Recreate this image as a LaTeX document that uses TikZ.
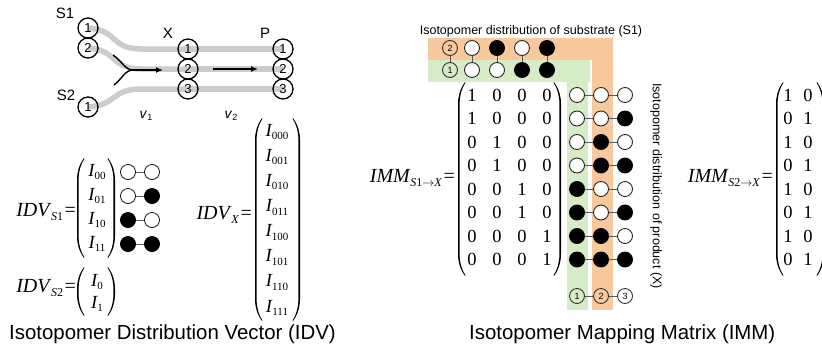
\documentclass[tikz,border=0pt]{standalone}
\usepackage{fontspec}
\setmainfont{Liberation Serif}
\setsansfont{Liberation Sans}
\usetikzlibrary{arrows.meta}
\definecolor{orng}{RGB}{249,200,156}
\definecolor{grn}{RGB}{213,236,198}
\newcommand\Isub[1]{\textit{I}\kern-0.5pt\raisebox{-3.5pt}{\fontsize{11}{11}\selectfont#1}}
\newcommand\myLab[2]{\textit{#1}\kern-0.5pt\raisebox{-4.5pt}{\fontsize{12}{12}\selectfont#2}\kern1.5pt=}
\newcommand\myLP[3]{\fill ({#1+7},#2) .. controls ({#1+2},{#2+7}) and (#1,{#2+14}) .. (#1,{#2+22}) -- (#1,{#3-22}) .. controls (#1,{#3-14}) and ({#1+2},{#3-7}) .. ({#1+7},#3) -- ({#1+7.4},{#3-0.7}) .. controls ({#1+3.3},{#3-7}) and ({#1+1.6},{#3-14}) .. ({#1+1.6},{#3-22}) -- ({#1+1.6},{#2+22}) .. controls ({#1+1.6},{#2+14}) and ({#1+3.3},{#2+7}) .. ({#1+7.4},{#2+0.7}) -- cycle;}
\newcommand\myRP[3]{\fill ({#1-7},#2) .. controls ({#1-2},{#2+7}) and (#1,{#2+14}) .. (#1,{#2+22}) -- (#1,{#3-22}) .. controls (#1,{#3-14}) and ({#1-2},{#3-7}) .. ({#1-7},#3) -- ({#1-7.4},{#3-0.7}) .. controls ({#1-3.3},{#3-7}) and ({#1-1.6},{#3-14}) .. ({#1-1.6},{#3-22}) -- ({#1-1.6},{#2+22}) .. controls ({#1-1.6},{#2+14}) and ({#1-3.3},{#2+7}) .. ({#1-7.4},{#2+0.7}) -- cycle;}
\begin{document}
\begin{tikzpicture}[x=1pt,y=-1pt,
  atom/.style={circle,draw,line width=1.3pt,minimum size=20pt,inner sep=0pt,font=\sffamily\fontsize{13}{13}\selectfont},
  band/.style={line width=5.5pt,draw=black!20},
  flow/.style={line width=1.4pt,draw=black},
  dot0/.style={circle,draw=black!85,fill=white,line width=0.9pt,minimum size=15pt,inner sep=0pt},
  dot1/.style={dot0,fill=black,draw=black},
  lbl/.style={circle,draw=black!80,line width=0.9pt,minimum size=15pt,inner sep=0pt,font=\sffamily\fontsize{9}{9}\selectfont},
  conn/.style={draw=black!65,line width=1pt},
  ent/.style={inner sep=0pt,font=\fontsize{18.5}{18.5}\selectfont},
  eqlab/.style={inner sep=0pt,anchor=east,font=\fontsize{20}{20}\selectfont},
  plain/.style={inner sep=0pt,font=\sffamily\fontsize{15}{15}\selectfont},
  captext/.style={inner sep=0pt,anchor=west,font=\sffamily\fontsize{20.4}{20.4}\selectfont},
  small/.style={inner sep=0pt,font=\sffamily\fontsize{12.5}{12.5}\selectfont}]
\useasboundingbox (0,0) rectangle (822,354);

% ---------- pathway ----------
\coordinate (cs1a) at (88,28);
\coordinate (cs1b) at (88,48);
\coordinate (cs2a) at (88,107);
\coordinate (cx1) at (188,49);
\coordinate (cx2) at (188,69);
\coordinate (cx3) at (188,89);
\coordinate (cp1) at (283,49);
\coordinate (cp2) at (283,69);
\coordinate (cp3) at (283,89);
\draw[band] (cs1a) .. controls (118,30) and (110,49) .. (142,49) -- (cx1);
\draw[band] (cs1b) .. controls (118,50) and (110,69) .. (142,69) -- (cx2);
\draw[band] (cs2a) .. controls (118,105) and (110,89) .. (142,89) -- (cx3);
\draw[band] (cx1) -- (cp1);
\draw[band] (cx2) -- (cp2);
\draw[band] (cx3) -- (cp3);
\node[atom] (s1a) at (cs1a) {1};
\node[atom] (s1b) at (cs1b) {2};
\node[atom] (s2a) at (cs2a) {1};
\node[atom] (x1) at (cx1) {1};
\node[atom] (x2) at (cx2) {2};
\node[atom] (x3) at (cx3) {3};
\node[atom] (p1) at (cp1) {1};
\node[atom] (p2) at (cp2) {2};
\node[atom] (p3) at (cp3) {3};
\node[plain] (ts1) at (65,13) {S1};
\node[plain] (ts2) at (66,95) {S2};
\node[plain] (tx) at (168,33) {X};
\node[plain] (tp) at (265,33) {P};
\node[plain,font=\sffamily\fontsize{14}{14}\selectfont] (tv1) at (146,116) {\textit{v}\raisebox{-2.5pt}{\fontsize{9}{9}\selectfont 1}};
\node[plain,font=\sffamily\fontsize{14}{14}\selectfont] (tv2) at (231,116) {\textit{v}\raisebox{-2.5pt}{\fontsize{9}{9}\selectfont 2}};
\coordinate (m1) at (113,55);
\coordinate (m2) at (114,85);
\coordinate (mj) at (133,70);
\coordinate (mt) at (163,70);
\coordinate (n1) at (213,69);
\coordinate (n2) at (258,69);
\draw[flow] (m1) .. controls (122,61) and (125,70) .. (mj);
\draw[flow] (m2) .. controls (122,79) and (125,70) .. (mj);
\draw[flow,-{Latex[length=7pt,width=6pt]}] (mj) -- (mt);
\draw[flow,-{Latex[length=7pt,width=6pt]}] (n1) -- (n2);

% ---------- IDV ----------
\node[eqlab] (ls1) at (76,212) {\myLab{IDV}{\textit{S}1}};
\myLP{77}{158}{258}
\myRP{115}{158}{258}
\foreach \s/\y [count=\i] in {00/172,01/196,10/220,11/244}
  \node[ent] (is1-\i) at (97,\y) {\Isub{\s}};
\foreach \a/\b/\y [count=\i] in {0/0/172,0/1/196,1/0/220,1/1/244}{
  \node[dot\a] (da\i) at (128,\y) {};
  \node[dot\b] (db\i) at (152,\y) {};
  \draw[conn] (da\i) -- (db\i);
}
\node[eqlab] (ls2) at (76,288) {\myLab{IDV}{\textit{S}2}};
\myLP{77}{267}{316}
\myRP{115}{267}{316}
\node[ent] (is2-1) at (97,282) {\Isub{0}};
\node[ent] (is2-2) at (97,304) {\Isub{1}};
\node[eqlab] (lx) at (252,215) {\myLab{IDV}{\textit{X}}};
\myLP{255}{118}{321}
\myRP{300}{118}{321}
\foreach \s [count=\i from 0] in {000,001,010,011,100,101,110,111}
  \node[ent] (ix-\i) at (277,{132+25.1*\i}) {\Isub{\s}};
\node[captext] (cap1) at (9,334) {Isotopomer Distribution Vector (IDV)};

% ---------- IMM ----------
\fill[orng] (428,38) rectangle (613,60);
\fill[orng] (592,38) rectangle (613,310);
\fill[grn] (428,60) rectangle (590,82);
\fill[grn] (567,60) rectangle (588,310);
\node[small] (title) at (531,31) {Isotopomer distribution of substrate (S1)};
\node[small,rotate=-90] (vtitle) at (656,186) {Isotopomer distribution of product (X)};
% substrate isotopomers
\node[lbl] (sa0) at (450,48) {2};
\node[lbl] (sb0) at (450,70) {1};
\draw[conn] (sa0) -- (sb0);
\foreach \t/\b/\x [count=\i] in {0/0/472,1/0/497,0/1/522,1/1/547}{
  \node[dot\t] (sa\i) at (\x,48) {};
  \node[dot\b] (sb\i) at (\x,70) {};
  \draw[conn] (sa\i) -- (sb\i);
}
% matrix S1 -> X
\node[eqlab] (limm1) at (455,178) {\myLab{IMM}{\textit{S}1$\rightarrow$\textit{X}}};
\myLP{458}{82}{276}
\myRP{561}{82}{276}
\foreach \k in {0,...,7}{
  \pgfmathtruncatemacro\jj{\k/2}
  \pgfmathsetmacro\yy{95+23.5*\k}
  \foreach \x [count=\c from 0] in {472,497,522,547}{
    \pgfmathtruncatemacro\vv{\c==\jj}
    \node[ent] (ma-\k-\c) at (\x,\yy) {\vv};
  }
  \pgfmathtruncatemacro\ba{\k/4}
  \pgfmathtruncatemacro\bb{mod(\k,4)/2}
  \pgfmathtruncatemacro\bc{mod(\k,2)}
  \node[dot\ba] (pa\k) at (577,\yy) {};
  \node[dot\bb] (pb\k) at (601,\yy) {};
  \node[dot\bc] (pc\k) at (625,\yy) {};
  \draw[conn] (pa\k) -- (pb\k);
  \draw[conn] (pb\k) -- (pc\k);
}
\node[lbl] (la) at (577,296) {1};
\node[lbl] (lb) at (601,296) {2};
\node[lbl] (lc) at (625,296) {3};
\draw[conn] (la) -- (lb);
\draw[conn] (lb) -- (lc);
% matrix S2 -> X
\node[eqlab] (limm2) at (773,178) {\myLab{IMM}{\textit{S}2$\rightarrow$\textit{X}}};
\myLP{776}{82}{276}
\myRP{824}{82}{276}
\foreach \k in {0,...,7}{
  \pgfmathsetmacro\yy{95+23.5*\k}
  \pgfmathtruncatemacro\bc{mod(\k,2)}
  \pgfmathtruncatemacro\bd{1-\bc}
  \node[ent] (mb-\k-0) at (788,\yy) {\bd};
  \node[ent] (mb-\k-1) at (808,\yy) {\bc};
}
\node[captext] (cap2) at (469,334) {Isotopomer Mapping Matrix (IMM)};
\end{tikzpicture}
\end{document}
